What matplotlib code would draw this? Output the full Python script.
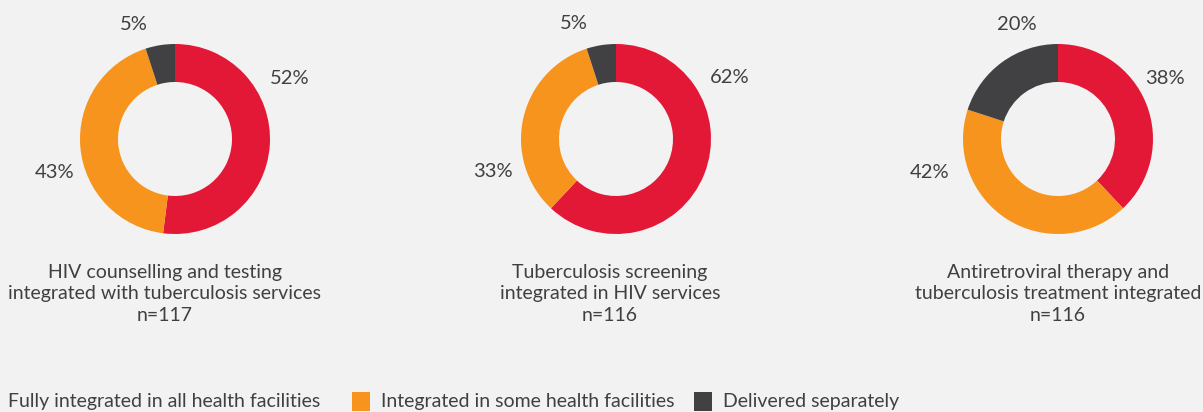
import matplotlib.pyplot as plt
from matplotlib.patches import Rectangle

plt.rcParams['font.family'] = ['Lato', 'DejaVu Sans']

# Data
titles = [
    "HIV counselling and testing\nintegrated with tuberculosis services\nn=117",
    "Tuberculosis screening\nintegrated in HIV services\nn=116",
    "Antiretroviral therapy and\ntuberculosis treatment integrated\nn=116",
]
categories = ["Fully integrated in all health facilities",
              "Integrated in some health facilities",
              "Delivered separately"]
fully = [52, 62, 38]
some = [43, 33, 42]
separate = [5, 5, 20]

colors = ["#E31837", "#F7941D", "#414042"]
bg = "#F2F2F2"
txt = "#404040"

W, H = 1203, 412
fig = plt.figure(figsize=(W / 100, H / 100), dpi=100, facecolor=bg)

centers_x = [175, 616, 1058]
cy = 139
title_x = [165, 610, 1058]
# label offsets (in units of 100 px) for each slice
label_pos = [
    [(1.15, 0.61), (-1.20, -0.33), (-0.41, 1.15)],
    [(1.14, 0.61), (-1.23, -0.33), (-0.42, 1.15)],
    [(1.07, 0.61), (-1.28, -0.33), (-0.41, 1.15)],
]

for i in range(3):
    cx = centers_x[i]
    ax = fig.add_axes([(cx - 150) / W, 1 - (cy + 150) / H, 300 / W, 300 / H])
    ax.set_facecolor(bg)
    vals = [fully[i], some[i], separate[i]]
    ax.pie(vals, colors=colors, startangle=90, counterclock=False, radius=0.95,
           wedgeprops=dict(width=0.38, edgecolor='none'))
    for v, (lx, ly) in zip(vals, label_pos[i]):
        ax.text(lx, ly, f"{v}%", ha='center', va='center', fontsize=14.5, color=txt)
    ax.set_xlim(-1.5, 1.5)
    ax.set_ylim(-1.5, 1.5)
    ax.set_aspect('equal')
    ax.axis('off')
    fig.text(title_x[i] / W, 1 - 294 / H, titles[i], ha='center', va='center',
             fontsize=14, color=txt, linespacing=1.32)

# legend drawn by hand
leg_x = [-21, 352, 694]
for x, c, lab in zip(leg_x, colors, categories):
    fig.patches.append(Rectangle((x / W, 1 - 411 / H), 18 / W, 19 / H,
                                 transform=fig.transFigure, facecolor=c,
                                 edgecolor='none'))
    fig.text((x + 29) / W, 1 - 402 / H, lab, ha='left', va='center',
             fontsize=14, color=txt)

fig.savefig("out.png", dpi=100, facecolor=bg)
